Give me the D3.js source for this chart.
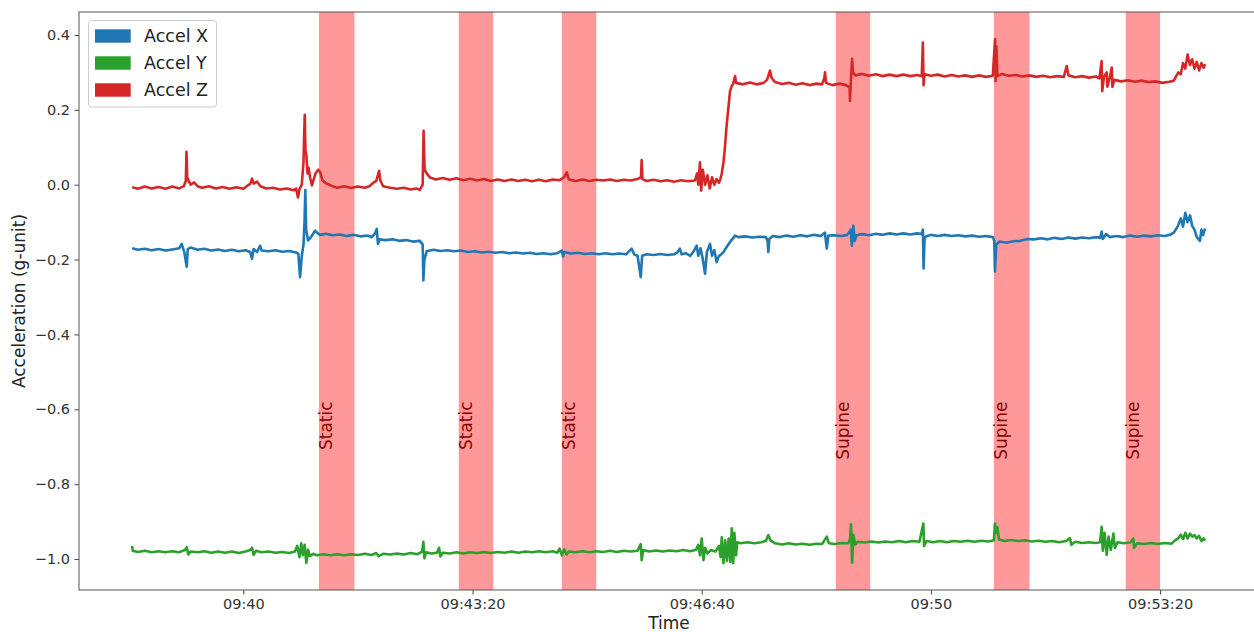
<!DOCTYPE html>
<html>
<head>
<meta charset="utf-8">
<script src="https://cdn.jsdelivr.net/npm/d3@7"></script>
<style>
  body { margin: 0; background: #fff; }
  text { font-family: "DejaVu Sans", sans-serif; }
</style>
</head>
<body>
<script>
// Canvas size
const width = 1254;
const height = 632;
const margin = { top: 12, left: 79, right: -5, bottom: 42 };

// Times are seconds relative to 09:40:00
const baseTime = new Date(2000, 0, 1, 9, 40, 0);
const xTickSeconds = [0, 200, 400, 600, 800];
const yTicks = [-1.0, -0.8, -0.6, -0.4, -0.2, 0.0, 0.2, 0.4];

// Labelled event windows [start, end] in seconds
const spanRanges = [[66, 97], [188, 218], [278, 308], [517, 547], [655, 686], [770, 800]];
const spanLabels = ['Static', 'Static', 'Static', 'Supine', 'Supine', 'Supine'];

const seriesNames = ['Accel X', 'Accel Y', 'Accel Z'];
const seriesColors = ['#1f77b4', '#2ca02c', '#d62728'];

// Accel X  [seconds, g]
const accelX = [
  [-97, -0.170], [-92, -0.174], [-86, -0.171], [-80, -0.175], [-74, -0.172], [-68, -0.176], [-62, -0.173],
  [-56, -0.170], [-53.8, -0.158], [-51.5, -0.180], [-49.4, -0.219], [-48.5, -0.172], [-46, -0.168],
  [-40, -0.174], [-34, -0.171], [-28, -0.176], [-22, -0.173], [-16, -0.177], [-10, -0.174], [-4, -0.178],
  [2, -0.175], [6, -0.180], [7.6, -0.198], [9, -0.172], [12, -0.180], [14.6, -0.163], [16, -0.176],
  [22, -0.178], [28, -0.175], [34, -0.179], [40, -0.177], [46, -0.181], [48, -0.185], [49.5, -0.247],
  [51, -0.190], [52.5, -0.160], [53.4, -0.100], [54.1, -0.014], [54.8, -0.120], [56.5, -0.149], [59, -0.140],
  [62.6, -0.123], [65, -0.130], [67, -0.134], [72, -0.131], [78, -0.135], [84, -0.133], [90, -0.137],
  [96, -0.134], [102, -0.138], [108, -0.136], [112, -0.140], [115, -0.130], [116.4, -0.118], [117.5, -0.158],
  [119, -0.146], [124, -0.148], [130, -0.146], [136, -0.150], [142, -0.148], [148, -0.152], [154, -0.150],
  [156.5, -0.160], [157.1, -0.256], [158, -0.200], [160, -0.178], [166, -0.174], [172, -0.177], [178, -0.175],
  [184, -0.178], [190, -0.176], [196, -0.180], [202, -0.178], [208, -0.181], [214, -0.179], [220, -0.182],
  [226, -0.180], [232, -0.183], [238, -0.181], [244, -0.184], [250, -0.182], [256, -0.185], [262, -0.183],
  [268, -0.186], [274, -0.183], [278, -0.176], [279, -0.192], [280, -0.180], [286, -0.184], [292, -0.182],
  [298, -0.185], [304, -0.183], [310, -0.186], [316, -0.183], [322, -0.186], [328, -0.184], [334, -0.186],
  [338.9, -0.171], [341, -0.186], [344, -0.190], [346.8, -0.247], [348, -0.190], [352, -0.186], [358, -0.188],
  [364, -0.185], [370, -0.188], [376, -0.186], [379, -0.180], [380.9, -0.171], [382.5, -0.186], [386, -0.183],
  [390, -0.190], [393, -0.178], [395.6, -0.163], [397, -0.190], [399, -0.170], [401, -0.200], [402.9, -0.238],
  [404.5, -0.180], [407.2, -0.158], [409, -0.190], [411, -0.175], [413.1, -0.207], [415, -0.190], [416, -0.189],
  [419, -0.180], [422, -0.165], [425, -0.152], [429.1, -0.136], [432, -0.140], [438, -0.138], [444, -0.141],
  [450, -0.139], [456, -0.140], [457.5, -0.150], [458.1, -0.180], [459, -0.145], [462, -0.137], [468, -0.140],
  [474, -0.136], [480, -0.139], [486, -0.135], [492, -0.138], [498, -0.134], [504, -0.137], [507.5, -0.128],
  [509.1, -0.171], [510.5, -0.136], [516, -0.135], [522, -0.137], [527, -0.134], [530, -0.120], [531, -0.163],
  [532.3, -0.109], [533.5, -0.150], [535, -0.135], [540, -0.132], [546, -0.135], [552, -0.131], [558, -0.134],
  [564, -0.130], [570, -0.133], [576, -0.130], [582, -0.133], [588, -0.130], [592, -0.132], [593, -0.120],
  [593.6, -0.224], [594.5, -0.140], [600, -0.134], [606, -0.137], [612, -0.134], [618, -0.137], [624, -0.135],
  [630, -0.138], [636, -0.136], [642, -0.139], [648, -0.137], [654, -0.140], [655.3, -0.150], [655.9, -0.232],
  [657, -0.160], [660, -0.152], [666, -0.155], [672, -0.151], [678, -0.150], [684, -0.145], [690, -0.146],
  [696, -0.143], [702, -0.146], [708, -0.142], [714, -0.145], [720, -0.141], [726, -0.144], [732, -0.141],
  [738, -0.143], [744, -0.140], [747.6, -0.142], [749, -0.125], [750, -0.145], [753, -0.132], [756, -0.140],
  [762, -0.137], [768, -0.140], [774, -0.136], [780, -0.139], [786, -0.136], [792, -0.138], [798, -0.135],
  [804, -0.137], [808.6, -0.134], [812, -0.128], [815.6, -0.110], [818, -0.090], [820, -0.112], [822, -0.075],
  [824, -0.100], [826.1, -0.082], [828, -0.110], [830, -0.120], [832, -0.140], [834.8, -0.150], [836, -0.120],
  [837.5, -0.135], [839.2, -0.117]
];

// Accel Y  [seconds, g]
const accelY = [
  [-97, -0.965], [-96.5, -0.978], [-92, -0.981], [-86, -0.978], [-80, -0.982], [-74, -0.979], [-68, -0.982],
  [-62, -0.979], [-56, -0.982], [-51, -0.976], [-49.4, -0.968], [-48, -0.988], [-46, -0.980], [-40, -0.982],
  [-34, -0.979], [-28, -0.983], [-22, -0.980], [-16, -0.983], [-10, -0.980], [-4, -0.984], [2, -0.980],
  [6, -0.976], [7.6, -0.970], [9, -0.989], [11, -0.978], [16, -0.982], [22, -0.980], [28, -0.983], [34, -0.981],
  [40, -0.984], [45, -0.980], [47, -0.965], [49, -0.995], [50.5, -0.958], [52, -0.990], [53.5, -0.962],
  [55, -1.010], [56.5, -0.975], [58, -0.992], [61, -0.986], [64, -0.990], [70, -0.987], [76, -0.990],
  [82, -0.987], [88, -0.990], [94, -0.987], [100, -0.989], [106, -0.986], [112, -0.989], [116, -0.984],
  [118, -0.992], [122, -0.986], [128, -0.988], [134, -0.985], [140, -0.988], [146, -0.984], [152, -0.987],
  [156, -0.980], [157.1, -0.954], [158, -0.998], [159.5, -0.982], [164, -0.985], [169, -0.983], [170.8, -0.970],
  [172, -0.993], [174, -0.983], [180, -0.985], [186, -0.982], [192, -0.985], [198, -0.982], [204, -0.984],
  [210, -0.981], [216, -0.984], [222, -0.981], [228, -0.983], [234, -0.980], [240, -0.983], [246, -0.980],
  [252, -0.982], [258, -0.979], [264, -0.982], [270, -0.979], [274, -0.983], [276, -0.972], [278, -0.990],
  [280, -0.974], [282, -0.988], [284, -0.980], [290, -0.982], [296, -0.979], [302, -0.982], [308, -0.979],
  [314, -0.981], [320, -0.978], [326, -0.981], [332, -0.978], [338, -0.980], [344, -0.978], [346.8, -0.960],
  [347.6, -1.003], [349, -0.976], [354, -0.980], [360, -0.977], [366, -0.980], [372, -0.977], [378, -0.979],
  [384, -0.976], [390, -0.979], [395, -0.975], [397, -0.962], [398.5, -0.990], [400, -0.945], [401.5, -1.003],
  [403, -0.970], [405, -0.985], [408, -0.976], [412, -0.980], [415, -0.965], [416.5, -0.995], [417.5, -0.942],
  [419, -1.011], [420.5, -0.950], [422, -1.005], [423.5, -0.945], [425, -1.008], [426.2, -0.918], [427.5, -1.011],
  [428.5, -0.930], [430, -0.990], [431, -0.955], [434, -0.958], [440, -0.955], [446, -0.958], [452, -0.955],
  [456, -0.952], [458.1, -0.936], [460, -0.950], [464, -0.958], [470, -0.961], [476, -0.958], [482, -0.961],
  [488, -0.959], [494, -0.962], [500, -0.959], [505, -0.960], [509.1, -0.940], [511, -0.958], [516, -0.960],
  [522, -0.957], [528, -0.958], [529.5, -0.945], [530.3, -0.907], [531.2, -1.010], [532.3, -0.935], [534, -0.962],
  [536, -0.954], [542, -0.956], [548, -0.953], [554, -0.956], [560, -0.953], [566, -0.955], [572, -0.952],
  [578, -0.955], [584, -0.952], [590, -0.954], [593.4, -0.905], [594, -0.965], [596, -0.952], [602, -0.955],
  [608, -0.952], [614, -0.955], [620, -0.952], [626, -0.954], [632, -0.951], [638, -0.954], [644, -0.951],
  [650, -0.953], [655, -0.950], [655.9, -0.905], [657, -0.930], [658, -0.915], [659.5, -0.948], [664, -0.952],
  [670, -0.949], [676, -0.952], [682, -0.950], [688, -0.953], [694, -0.951], [700, -0.954], [706, -0.952],
  [712, -0.955], [718, -0.952], [721.4, -0.944], [722.5, -0.962], [726, -0.954], [732, -0.957], [738, -0.955],
  [744, -0.957], [747.6, -0.955], [749, -0.914], [750, -0.978], [751.5, -0.930], [753.4, -0.989], [755, -0.940],
  [757, -0.975], [759.2, -0.932], [760.5, -0.970], [763, -0.955], [768, -0.958], [774, -0.956], [776.6, -0.945],
  [777.3, -0.970], [780, -0.958], [786, -0.960], [792, -0.957], [798, -0.960], [804, -0.957], [810, -0.959],
  [813, -0.950], [816, -0.944], [818, -0.935], [820, -0.947], [822, -0.930], [824, -0.945], [826, -0.932],
  [828, -0.940], [830, -0.936], [832, -0.945], [834, -0.938], [836, -0.952], [838, -0.945], [839.2, -0.951]
];

// Accel Z  [seconds, g]
const accelZ = [
  [-97, -0.007], [-92, -0.011], [-86, -0.005], [-80, -0.010], [-74, -0.006], [-68, -0.011], [-62, -0.005],
  [-56, -0.010], [-52, -0.004], [-50.2, 0.010], [-49.6, 0.088], [-49.0, 0.020], [-48, 0.012], [-46, 0.000],
  [-43, 0.006], [-40, -0.004], [-36, -0.008], [-30, -0.004], [-24, -0.010], [-18, -0.006], [-12, -0.011],
  [-6, -0.007], [0, -0.011], [3, -0.004], [6, 0.002], [7.6, 0.016], [9, 0.003], [12, 0.008], [15, -0.004],
  [20, -0.010], [26, -0.008], [32, -0.013], [38, -0.010], [44, -0.015], [46, -0.010], [47.7, -0.034],
  [49, -0.012], [51, 0.000], [52.5, 0.060], [53.1, 0.135], [53.6, 0.187], [54.2, 0.090], [55, 0.080],
  [56, 0.030], [57, 0.045], [58.2, 0.020], [59.9, -0.002], [61, 0.010], [63, 0.030], [65.4, 0.040],
  [67, 0.034], [69, 0.012], [72, 0.004], [75, 0.000], [78, -0.004], [82, -0.008], [88, -0.004], [94, -0.009],
  [100, -0.005], [106, -0.008], [110, -0.004], [113, 0.004], [116, 0.010], [118.5, 0.037], [119.5, 0.012],
  [122, -0.004], [128, -0.008], [134, -0.011], [140, -0.008], [146, -0.013], [151, -0.010], [154, -0.014],
  [156.5, 0.000], [157.3, 0.144], [158.2, 0.040], [160, 0.030], [163, 0.019], [168, 0.014], [174, 0.018],
  [180, 0.013], [186, 0.017], [192, 0.012], [198, 0.016], [204, 0.011], [210, 0.015], [216, 0.010],
  [222, 0.014], [228, 0.010], [234, 0.014], [240, 0.010], [246, 0.013], [252, 0.009], [258, 0.013],
  [264, 0.009], [270, 0.014], [276, 0.012], [280, 0.020], [282.2, 0.033], [284, 0.014], [290, 0.010],
  [296, 0.014], [302, 0.010], [308, 0.013], [314, 0.011], [320, 0.014], [326, 0.010], [332, 0.013],
  [338, 0.011], [344, 0.015], [347, 0.020], [347.6, 0.066], [348.3, 0.015], [352, 0.010], [358, 0.013],
  [364, 0.009], [370, 0.012], [376, 0.008], [382, 0.012], [388, 0.009], [394, 0.011], [396, 0.030],
  [397, 0.000], [398.5, 0.060], [399.5, -0.016], [401, 0.040], [403, 0.000], [405, 0.025], [407, -0.010],
  [409, 0.020], [411, 0.000], [413, 0.015], [415, 0.005], [416, 0.012], [417.5, 0.030], [419, 0.060],
  [420.3, 0.100], [421.5, 0.150], [423, 0.197], [424.7, 0.250], [426, 0.262], [427.5, 0.270], [429.1, 0.290],
  [430, 0.272], [436, 0.268], [442, 0.273], [448, 0.268], [454, 0.272], [457, 0.280], [459.6, 0.305],
  [461, 0.285], [464, 0.274], [470, 0.269], [476, 0.272], [482, 0.267], [488, 0.271], [494, 0.266],
  [500, 0.270], [505, 0.268], [507, 0.285], [507.6, 0.300], [508.5, 0.272], [514, 0.266], [520, 0.270],
  [526, 0.266], [529, 0.260], [529.4, 0.224], [530, 0.265], [531.2, 0.336], [532, 0.300], [534, 0.292],
  [540, 0.296], [546, 0.291], [552, 0.295], [558, 0.290], [564, 0.294], [570, 0.290], [576, 0.294],
  [582, 0.290], [588, 0.293], [592, 0.290], [593, 0.380], [593.6, 0.266], [594.5, 0.295], [600, 0.291],
  [606, 0.294], [612, 0.289], [618, 0.293], [624, 0.289], [630, 0.292], [636, 0.288], [642, 0.292],
  [648, 0.288], [654, 0.291], [656, 0.389], [656.5, 0.277], [657.2, 0.370], [658, 0.290], [662, 0.296],
  [668, 0.291], [674, 0.293], [680, 0.289], [686, 0.292], [692, 0.288], [698, 0.291], [704, 0.287],
  [710, 0.290], [716, 0.288], [718.5, 0.317], [720, 0.292], [726, 0.287], [732, 0.290], [738, 0.286],
  [744, 0.289], [747, 0.284], [749, 0.330], [749.5, 0.250], [751, 0.288], [753.4, 0.300], [754, 0.262],
  [756, 0.285], [757.8, 0.313], [758.4, 0.261], [760, 0.280], [766, 0.276], [772, 0.279], [778, 0.275],
  [784, 0.278], [790, 0.274], [796, 0.276], [802, 0.272], [808, 0.275], [812, 0.278], [814, 0.290],
  [816, 0.300], [818, 0.295], [820, 0.325], [822, 0.310], [824, 0.348], [826, 0.320], [828, 0.335],
  [830, 0.310], [832, 0.328], [834, 0.305], [836, 0.325], [838, 0.312], [839.2, 0.322]
];

const seriesData = [accelX, accelY, accelZ];

const toDate = s => new Date(baseTime.getTime() + s * 1000);

const svg = d3.select('body')
  .append('svg')
  .attr('width', width)
  .attr('height', height);

// Scales
const x = d3.scaleTime()
  .domain([toDate(-143.4), toDate(886.3)])
  .range([margin.left, width - margin.right]);

const y = d3.scaleLinear()
  .domain([-1.0827, 0.4613])
  .range([height - margin.bottom, margin.top]);

// Shaded event windows
svg.append('g')
  .selectAll('rect')
  .data(spanRanges)
  .enter()
  .append('rect')
  .attr('x', d => x(toDate(d[0])))
  .attr('width', d => x(toDate(d[1])) - x(toDate(d[0])))
  .attr('y', margin.top)
  .attr('height', height - margin.bottom - margin.top)
  .attr('fill', 'red')
  .attr('fill-opacity', 0.4);

// Series lines
const line = d3.line()
  .x(d => x(toDate(d[0])))
  .y(d => y(d[1]));

svg.append('g')
  .selectAll('path')
  .data(seriesData)
  .enter()
  .append('path')
  .attr('d', line)
  .attr('fill', 'none')
  .attr('stroke', (d, i) => seriesColors[i])
  .attr('stroke-width', 2.6)
  .attr('stroke-linejoin', 'round');

// Span labels, rotated
svg.append('g')
  .selectAll('text')
  .data(spanRanges)
  .enter()
  .append('text')
  .attr('transform', d => `translate(${x(toDate(d[0])) + 13.5},${y(-0.579)}) rotate(-90)`)
  .attr('text-anchor', 'end')
  .attr('font-size', 17)
  .attr('fill', '#8b0000')
  .text((d, i) => spanLabels[i]);

// Axes
const fmtMin = d3.timeFormat('%H:%M');
const fmtSec = d3.timeFormat('%H:%M:%S');

const xAxis = svg.append('g')
  .attr('transform', `translate(0,${height - margin.bottom})`)
  .call(d3.axisBottom(x)
    .tickValues(xTickSeconds.map(toDate))
    .tickFormat(d => d.getSeconds() === 0 ? fmtMin(d) : fmtSec(d))
    .tickSize(4.5)
    .tickPadding(4));

const yAxis = svg.append('g')
  .attr('transform', `translate(${margin.left},0)`)
  .call(d3.axisLeft(y)
    .tickValues(yTicks)
    .tickFormat(d => d3.format('.1f')(d).replace('-', '\u2212'))
    .tickSize(4.5)
    .tickPadding(4.5));

[xAxis, yAxis].forEach(a => {
  a.selectAll('text').attr('font-size', 14.5).attr('fill', '#333').attr('font-family', '"DejaVu Sans", sans-serif');
  a.selectAll('line').attr('stroke', '#444');
  a.select('.domain').remove();
});

// Top spine and frame
svg.append('rect')
  .attr('x', margin.left)
  .attr('y', margin.top)
  .attr('width', width - margin.right - margin.left)
  .attr('height', height - margin.bottom - margin.top)
  .attr('fill', 'none')
  .attr('stroke', '#555')
  .attr('stroke-width', 1);

// Axis titles
svg.append('text')
  .attr('x', (margin.left + width - margin.right) / 2)
  .attr('y', 629)
  .attr('text-anchor', 'middle')
  .attr('font-size', 17)
  .attr('fill', '#222')
  .text('Time');

svg.append('text')
  .attr('transform', `translate(24.5,${(margin.top + height - margin.bottom) / 2}) rotate(-90)`)
  .attr('text-anchor', 'middle')
  .attr('font-size', 17)
  .attr('fill', '#222')
  .text('Acceleration (g-unit)');

// Legend
const legend = svg.append('g').attr('transform', 'translate(88.5,20.5)');
legend.append('rect')
  .attr('width', 128)
  .attr('height', 86.5)
  .attr('rx', 3)
  .attr('fill', '#fff')
  .attr('fill-opacity', 0.8)
  .attr('stroke', '#ccc');

const rows = legend.selectAll('g.row')
  .data(seriesNames)
  .enter()
  .append('g')
  .attr('class', 'row')
  .attr('transform', (d, i) => `translate(0,${15.5 + i * 27})`);

rows.append('rect')
  .attr('x', 6.5)
  .attr('y', -6.7)
  .attr('width', 35.7)
  .attr('height', 13.4)
  .attr('fill', (d, i) => seriesColors[i]);

rows.append('text')
  .attr('x', 55.5)
  .attr('y', 6.3)
  .attr('font-size', 17.5)
  .attr('fill', '#222')
  .text(d => d);
</script>
</body>
</html>
